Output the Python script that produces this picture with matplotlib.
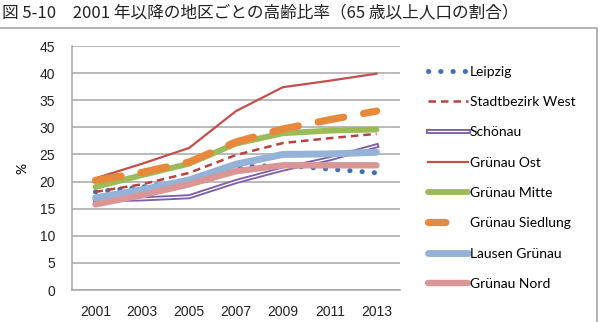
#!/usr/bin/env python3
"""Share of population aged 65+ by district, Leipzig-Grünau, 2001-2013."""
import matplotlib

matplotlib.use("Agg")
import matplotlib.pyplot as plt
from matplotlib.legend_handler import HandlerTuple
from matplotlib.lines import Line2D
from matplotlib.patches import Rectangle

YEARS = ["2001", "2003", "2005", "2007", "2009", "2011", "2013"]

leipzig = [18.1, 19.0, 20.2, 22.7, 23.0, 22.3, 21.6]
stadtbezirk_west = [18.1, 19.5, 21.6, 24.9, 27.1, 28.0, 28.8]
schoenau = [16.6, 16.8, 17.2, 20.0, 22.3, 24.2, 26.6]
gruenau_ost = [20.6, 23.3, 26.2, 33.0, 37.4, 38.6, 39.9]
gruenau_mitte = [19.0, 21.2, 23.3, 27.0, 28.9, 29.4, 29.6]
gruenau_siedlung = [20.2, 21.7, 23.6, 27.3, 29.7, 31.4, 33.0]
lausen_gruenau = [17.0, 18.5, 20.3, 23.2, 25.0, 25.1, 25.4]
gruenau_nord = [15.8, 17.5, 19.5, 21.9, 23.0, 23.0, 23.0]

LABELS = ["Leipzig", "Stadtbezirk West", "Schönau", "Grünau Ost",
          "Grünau Mitte", "Grünau Siedlung", "Lausen Grünau", "Grünau Nord"]

TITLE = "図 5-10\u30002001 年以降の地区ごとの高齢比率（65 歳以上人口の割合）"

plt.rcParams["font.family"] = ["Lato", "DejaVu Sans"]

fig = plt.figure(figsize=(6.03, 3.22), dpi=100)
W, H = 603, 322
ax = fig.add_axes([72 / W, 1 - 290 / H, (400 - 72) / W, (290 - 46) / H])

x = list(range(len(YEARS)))

# chart frame (only top and right edges are inside the picture)
fig.patches.append(Rectangle((-0.01, -0.05), 597 / W + 0.01, 1 - 28 / H + 0.05,
                             transform=fig.transFigure, fill=False,
                             edgecolor="#a6a6a6", linewidth=1.2))

handles = []
(h,) = ax.plot(x, leipzig, color="#3f6fb5", linewidth=3.6,
               linestyle=(0, (0.05, 2.4)), dash_capstyle="round")
handles.append(h)
(h,) = ax.plot(x, stadtbezirk_west, color="#b7423f", linewidth=1.8,
               linestyle=(0, (3, 2)))
handles.append(h)
# double line: purple with a thin white core
(h1,) = ax.plot(x, schoenau, color="#7f5fa8", linewidth=3.6)
(h2,) = ax.plot(x, schoenau, color="white", linewidth=0.9)
handles.append((h1, h2))
(h,) = ax.plot(x, gruenau_ost, color="#c0504d", linewidth=1.6)
handles.append(h)
(h,) = ax.plot(x, gruenau_mitte, color="#9bbb59", linewidth=4.2,
               solid_capstyle="round")
handles.append(h)
ax.plot(x, gruenau_siedlung, color="#e8883a", linewidth=5.2,
        linestyle=(0, (3.6, 2.8)), dash_capstyle="round")
handles.append(Line2D([], [], color="#e8883a", linewidth=5.2,
                      linestyle=(0, (2.4, 10)), dash_capstyle="round"))
(h,) = ax.plot(x, lausen_gruenau, color="#95b3d7", linewidth=5.0,
               solid_capstyle="round")
handles.append(h)
(h,) = ax.plot(x, gruenau_nord, color="#d99694", linewidth=4.6,
               solid_capstyle="round")
handles.append(h)

ax.set_xlim(-0.5, len(YEARS) - 0.5)
ax.set_ylim(0, 45)
ax.set_yticks(range(0, 46, 5))
ax.set_xticks(x)
ax.set_xticklabels(YEARS)
ax.yaxis.grid(True, color="#a6a6a6", linewidth=1.1)
ax.set_axisbelow(True)
for side in ("top", "right"):
    ax.spines[side].set_visible(False)
for side in ("left", "bottom"):
    ax.spines[side].set_color("#a6a6a6")
    ax.spines[side].set_linewidth(1.1)
ax.tick_params(axis="both", length=0, labelsize=10, colors="#222222")
ax.tick_params(axis="y", pad=12)
ax.tick_params(axis="x", pad=11)
for lbl in ax.get_xticklabels() + ax.get_yticklabels():
    lbl.set_family(["Liberation Sans", "DejaVu Sans"])
ax.set_ylabel("%", fontsize=10, labelpad=8)

fig.legend(handles, LABELS, loc="upper left",
           bbox_to_anchor=(422 / W, 1 - 60 / H), frameon=False,
           fontsize=10, handlelength=2.9, handletextpad=0.15,
           labelspacing=1.32, borderaxespad=0,
           handler_map={tuple: HandlerTuple(ndivide=1)})

fig.text(2 / W, 1 - 13 / H, TITLE, fontsize=12, va="center", ha="left",
         family=["Noto Sans CJK JP", "DejaVu Sans"], color="#222222")

fig.savefig("out.png", dpi=100)
